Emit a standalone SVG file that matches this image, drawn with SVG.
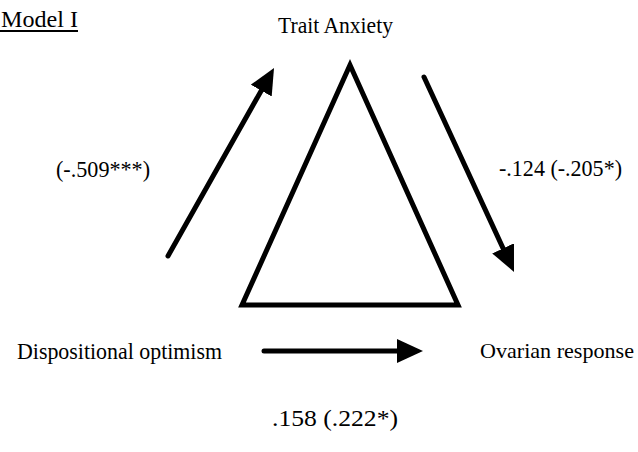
<svg xmlns="http://www.w3.org/2000/svg" width="638" height="452" viewBox="0 0 638 452">
<style>
text{font-family:"Liberation Serif","Times New Roman",serif;font-size:23px;fill:#000}
.ln{stroke:#000;stroke-width:5;fill:none;stroke-linecap:round}
</style>
<defs>
<marker id="ah" markerUnits="userSpaceOnUse" markerWidth="30" markerHeight="30" refX="16" refY="12" orient="auto">
<path d="M0,0 L26,12 L0,24 Z" fill="#000"/>
</marker>
</defs>
<rect width="638" height="452" fill="#fff"/>
<g id="title">
<text x="1" y="27" textLength="77" lengthAdjust="spacingAndGlyphs">Model I</text>
<rect x="0" y="30" width="78" height="2" fill="#000"/>
</g>
<g id="mediator-triangle">
<polygon points="350,65 242,305 458,305" fill="none" stroke="#000" stroke-width="5" stroke-linejoin="miter"/>
</g>
<g id="trait-anxiety"><text x="278" y="33" textLength="115" lengthAdjust="spacingAndGlyphs">Trait Anxiety</text></g>
<g id="dispositional-optimism"><text x="17" y="359" textLength="205" lengthAdjust="spacingAndGlyphs">Dispositional optimism</text></g>
<g id="ovarian-response"><text x="480" y="358" style="font-size:22px" textLength="154" lengthAdjust="spacingAndGlyphs">Ovarian response</text></g>
<g id="connectors">
<line class="ln" x1="168" y1="256" x2="269.1" y2="76.7" marker-end="url(#ah)"/>
<line class="ln" x1="424" y1="77" x2="509.8" y2="262.9" marker-end="url(#ah)"/>
<line class="ln" x1="264" y1="351" x2="413" y2="351" marker-end="url(#ah)"/>
</g>
<g id="labels">
<text x="56" y="177" textLength="94" lengthAdjust="spacingAndGlyphs">(-.509***)</text>
<text x="499" y="176" textLength="123" lengthAdjust="spacingAndGlyphs">-.124 (-.205*)</text>
<text x="272" y="426" textLength="126" lengthAdjust="spacingAndGlyphs">.158 (.222*)</text>
</g>
</svg>
